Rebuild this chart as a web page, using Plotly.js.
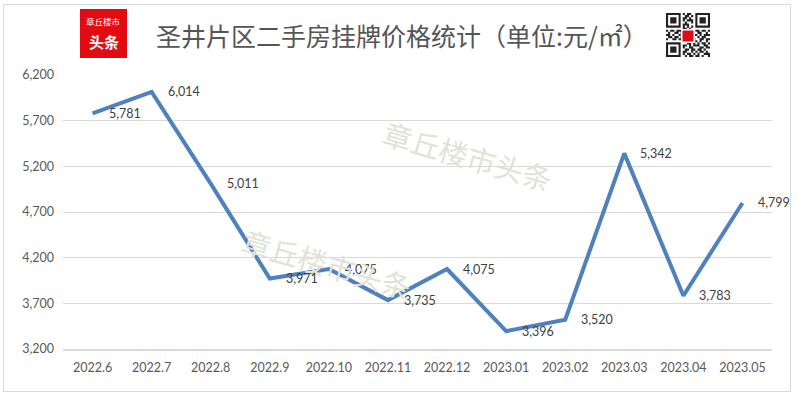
<!DOCTYPE html>
<html><head><meta charset="utf-8">
<script src="https://cdn.plot.ly/plotly-3.0.1.min.js"></script>
<style>html,body{margin:0;padding:0;background:#fff}#wrap{position:relative;width:797px;height:396px}#chart{width:797px;height:396px}#border{position:absolute;left:3px;top:4px;width:786px;height:386px;border:1px solid #d9d9d9;pointer-events:none}</style>
</head><body><div id="wrap"><div id="chart"></div><div id="border"></div></div>
<script>
var categories = ["2022.6","2022.7","2022.8","2022.9","2022.10","2022.11","2022.12","2023.01","2023.02","2023.03","2023.04","2023.05"];
var prices = [5781,6014,5011,3971,4075,3735,4075,3396,3520,5342,3783,4799];
var yTicks = [3200,3700,4200,4700,5200,5700,6200];
var titleText = "圣井片区二手房挂牌价格统计（单位:元/㎡）";
var watermark = "章丘楼市头条";

var L=63, T=75, W=709, H=274;
function px(x){return (x-L)/W;}
function py(y){return 1-(y-T)/H;}
function fmt(v){return v.toLocaleString('en-US');}

var annotations = prices.map(function(v,i){
  return {x:i, y:v, xref:'x', yref:'y', text:fmt(v), showarrow:false,
    xanchor:'left', yanchor:'middle', xshift:14, font:{family:'Lato, sans-serif', size:12.5, color:'#404040'}};
});
function deco(x,y,text,font,angle){
  return {xref:'paper',yref:'paper',x:px(x),y:py(y),text:text,showarrow:false,xanchor:'center',yanchor:'middle',textangle:angle||0,borderpad:0,font:font};
}
annotations.push(deco(468,155,watermark,{family:'Noto Sans CJK SC',size:29,color:'#e0e3d6'},16));
annotations.push(deco(327,263,watermark,{family:'Noto Sans CJK SC',size:29,color:'#e0e3d6'},16));
annotations.push(deco(103.5,21,"章丘楼市",{family:'Noto Sans CJK SC',size:8.5,color:'#ffffff'}));
annotations.push(deco(103.5,42,"<b>头条</b>",{family:'Noto Sans CJK SC',size:15,color:'#ffffff'}));

var shapes = [];
shapes.push({type:'rect',xref:'paper',yref:'paper',x0:px(80),x1:px(127),y0:py(58),y1:py(9),fillcolor:'#e30b12',line:{width:0},layer:'below'});

// QR decoration
var qr = [
"111111101011001111111",
"100000100110101000001",
"101110101101001011101",
"101110101011101011101",
"101110100100101011101",
"100000101110001000001",
"111111101010101111111",
"000000001101000000000",
"101101110011101101101",
"010011011100100110010",
"110100101001011010111",
"011011010110100101100",
"100110110011010011011",
"000000000101101010010",
"111111100011010101101",
"100000101101011100110",
"101110101001100011011",
"101110100110110110100",
"101110101100101011010",
"100000101011010100111",
"111111100101101101001"];
var qx=666, qy=13, m=44/21;
var path='';
for(var r=0;r<qr.length;r++){for(var c=0;c<qr[r].length;c++){if(qr[r][c]==='1'){
  var x0=px(qx+c*m), x1=px(qx+(c+1)*m), y0=py(qy+r*m), y1=py(qy+(r+1)*m);
  path+='M'+x0+','+y0+'L'+x1+','+y0+'L'+x1+','+y1+'L'+x0+','+y1+'Z';}}}
shapes.push({type:'path',xref:'paper',yref:'paper',path:path,fillcolor:'#222',line:{width:0},layer:'above'});
shapes.push({type:'rect',xref:'paper',yref:'paper',x0:px(681),x1:px(695),y0:py(43),y1:py(29),fillcolor:'#ffffff',line:{width:0},layer:'above'});
shapes.push({type:'rect',xref:'paper',yref:'paper',x0:px(682.5),x1:px(693.5),y0:py(41.5),y1:py(30.5),fillcolor:'#e30b12',line:{width:0},layer:'above'});

var trace = {x:categories, y:prices, type:'scatter', mode:'lines',
  line:{color:'#4f81bd', width:4}, hoverinfo:'skip'};

var layout = {
  width:797, height:396,
  margin:{l:L, r:797-L-W, t:T, b:396-T-H},
  paper_bgcolor:'#ffffff', plot_bgcolor:'#ffffff',
  showlegend:false,
  title:{text:titleText, x:402/797, xref:'container', y:1-37/396, yref:'container', xanchor:'center', yanchor:'middle',
    font:{family:'Noto Sans CJK SC', size:25, color:'#555555'}},
  xaxis:{type:'category', range:[-0.5,11.5], showgrid:false, zeroline:false, showline:true, linecolor:'#d9d9d9', linewidth:2,
    ticks:'', tickfont:{family:'Lato, sans-serif', size:12.5, color:'#595959'}, ticklabelstandoff:6, fixedrange:true},
  yaxis:{range:[3200,6200], tickvals:yTicks, ticktext:yTicks.map(fmt), showgrid:true, gridcolor:'#d9d9d9', gridwidth:1,
    zeroline:false, showline:false, ticks:'', tickfont:{family:'Lato, sans-serif', size:12.5, color:'#595959'}, ticklabelstandoff:8, fixedrange:true},
  annotations:annotations, shapes:shapes
};
Plotly.newPlot('chart',[trace],layout,{displayModeBar:false,staticPlot:true});
</script></body></html>
